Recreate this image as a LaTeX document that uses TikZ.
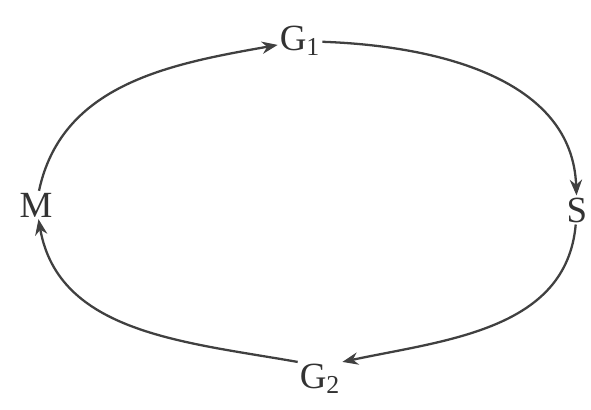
\documentclass[tikz,border=0pt]{standalone}
\usepackage{fontspec}
\setmainfont{Liberation Serif}
\usepackage{xcolor}
\usetikzlibrary{positioning, arrows.meta}

\begin{document}
\begin{tikzpicture}[
    phase/.style={inner sep=1pt, font=\fontsize{21}{24}\selectfont, text=black!80},
    arr/.style={-{Stealth[length=9pt, width=7pt]}, line width=1.3pt, draw=black!75},
]
\useasboundingbox (0,0) rectangle (11.82,8.2);
\node[phase] (g1) at (6.0,7.38) {G\textsubscript{1}};
\node[phase] (s) at (11.54,4.0) {S};
\node[phase] (g2) at (6.4,0.62) {G\textsubscript{2}};
\node[phase] (m) at (0.72,4.1) {M};
\draw[arr] (m) to[out=78, in=190] (g1);
\draw[arr] (g1) to[out=-2, in=92] (s);
\draw[arr] (s) to[out=-95, in=12] (g2.north east);
\draw[arr] (g2.north west) to[out=170, in=-80] (m);
\end{tikzpicture}
\end{document}
